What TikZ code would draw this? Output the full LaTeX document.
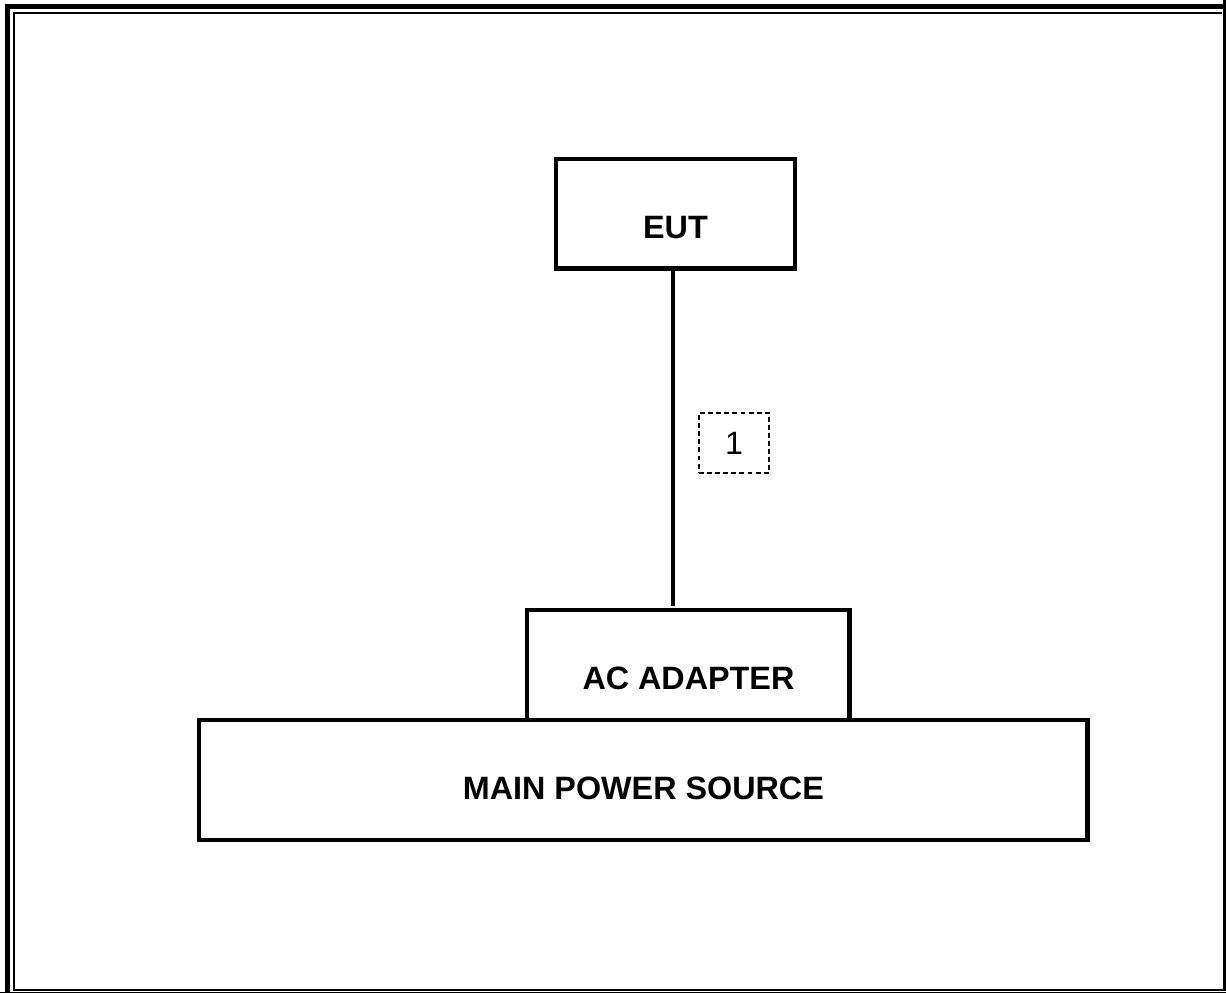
\documentclass[tikz,border=0pt]{standalone}
\usepackage{fontspec}
\setmainfont{Liberation Sans}
\usepackage{tikz}
\tikzset{
  unitbox/.style={draw, line width=2.8pt, inner sep=0pt, outer sep=0pt,
                  text height=1.6cm, font=\bfseries\fontsize{18.4}{21}\selectfont},
  cable/.style={line width=2.8pt},
  cablelabel/.style={draw, dashed, dash pattern=on 2.8pt off 1.8pt, line width=0.7pt,
                     minimum width=1.4cm, minimum height=1.2cm, inner sep=0pt,
                     font=\fontsize{18.4}{21}\selectfont}
}

\begin{document}
\begin{tikzpicture}[x=0.02cm, y=-0.02cm]
    \useasboundingbox (0,0) rectangle (1226,993);

    % Page frame
    \draw[line width=3pt] (7.3,993) -- (7.3,6.3) -- (1226,6.3);
    \draw[line width=1pt] (13.9,989) -- (13.9,12.8) -- (1222,12.8);
    \draw[line width=1.9pt] (1224.3,0) -- (1224.3,990.7);
    \draw[line width=1.2pt] (13,989.7) -- (1226,989.7);
    \draw[line width=0.7pt] (0,992.4) -- (1226,992.4);

    % Units
    \node[unitbox, anchor=north west, minimum width=4.78cm, text depth=0.59cm]
        (eut) at (556,159) {EUT};
    \node[unitbox, anchor=north west, minimum width=6.46cm, text depth=0.6cm]
        (adapter) at (527,610) {AC ADAPTER};
    \node[unitbox, anchor=north west, minimum width=17.78cm, text depth=0.8cm]
        (mains) at (199,720) {MAIN POWER SOURCE};

    % Cable
    \draw[cable, shorten >=2.5pt] ([xshift=-0.05cm]eut.south)
        -- ([xshift=-0.05cm]eut.south |- adapter.north);
    \node[cablelabel] (cab1) at (734,443) {1};
\end{tikzpicture}
\end{document}
